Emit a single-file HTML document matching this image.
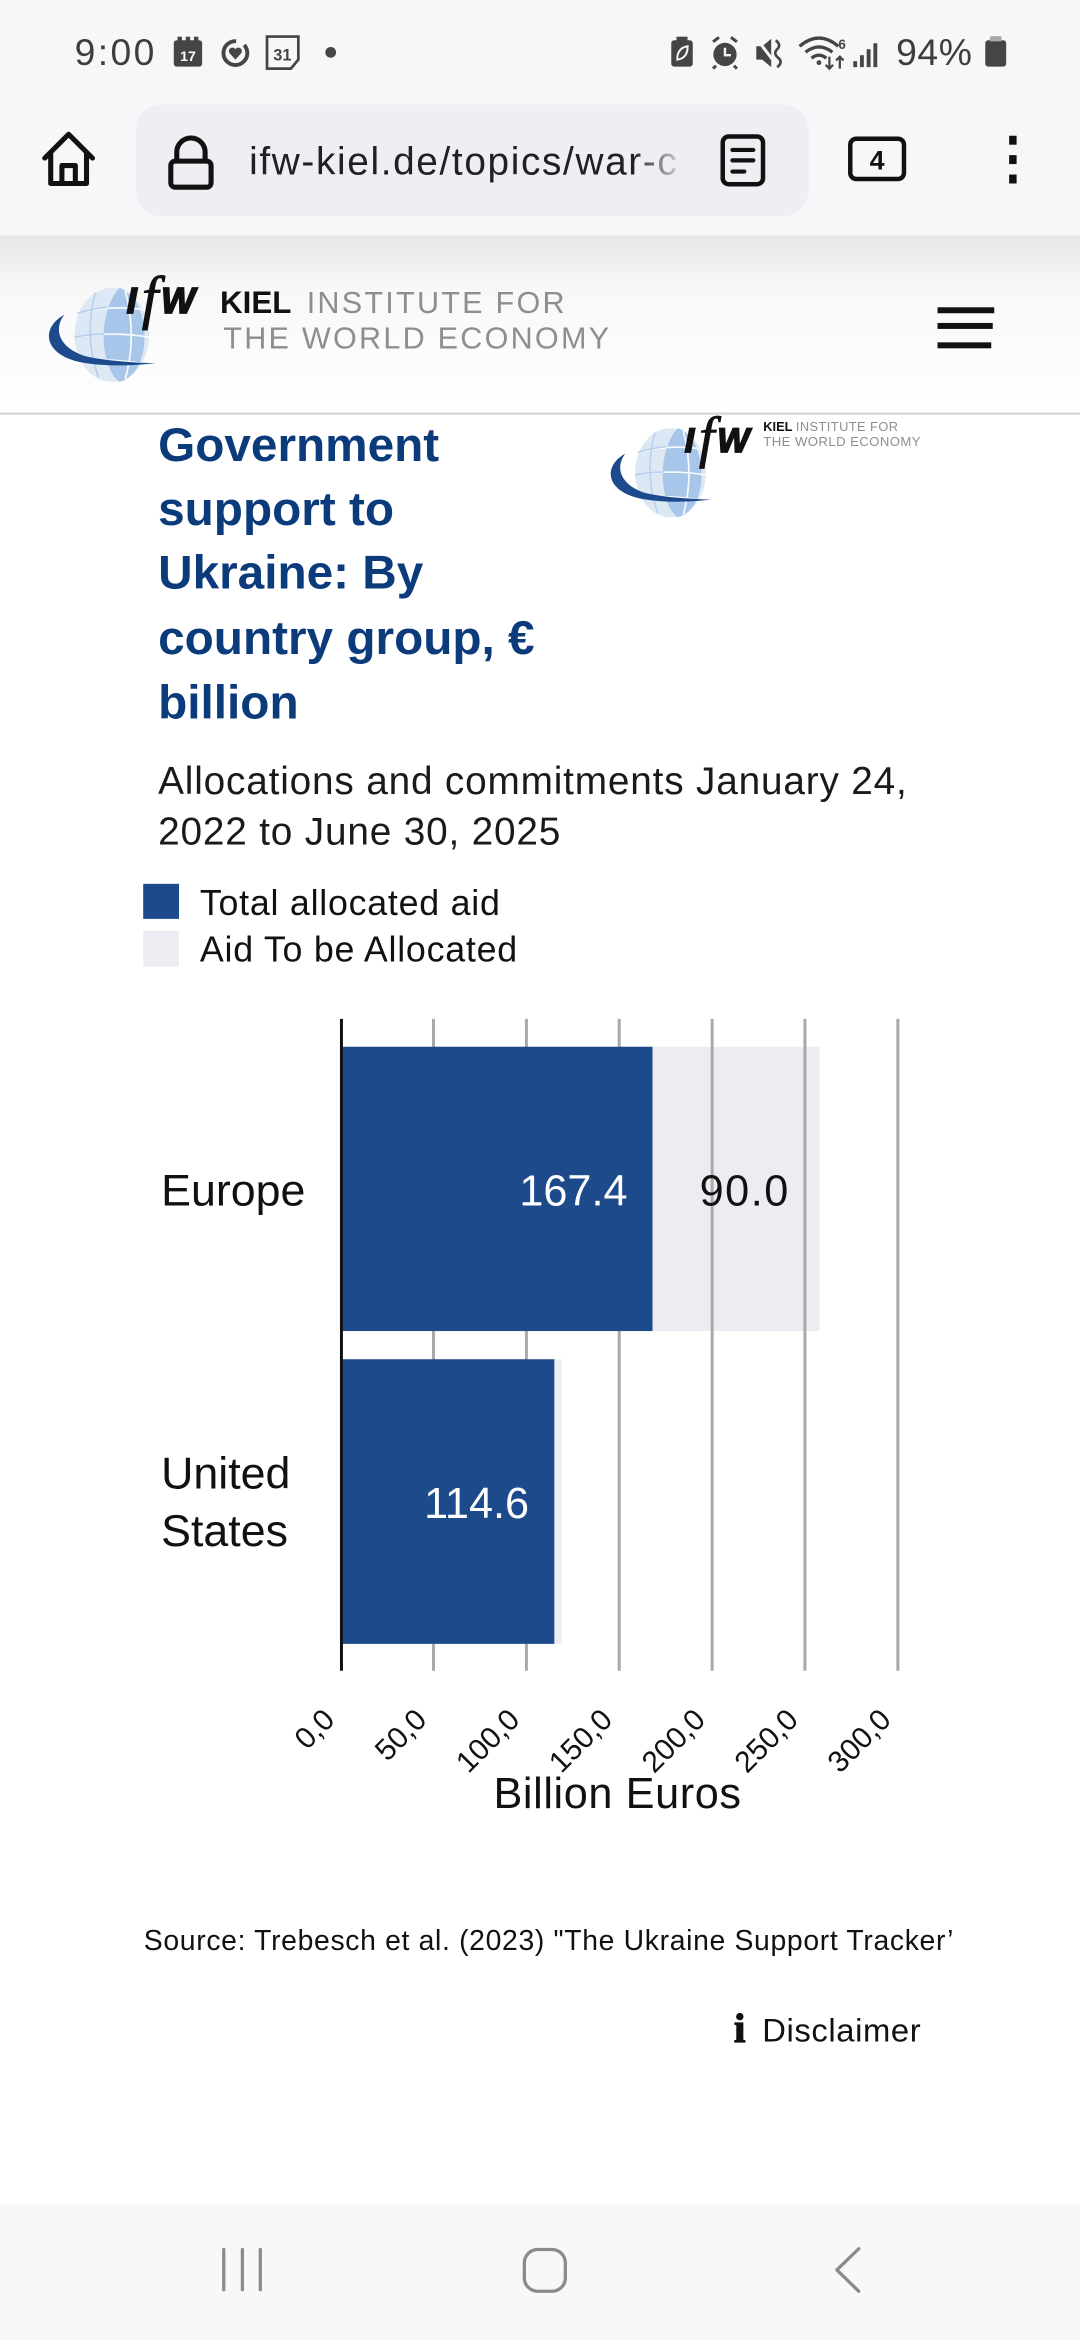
<!DOCTYPE html>
<html><head><meta charset="utf-8">
<style>
html,body{margin:0;padding:0;width:1080px;height:2340px;overflow:hidden;background:#fff;}
svg{display:block;}
</style></head><body>
<svg xmlns="http://www.w3.org/2000/svg" width="1080" height="2340" viewBox="0 0 724 1568.67" preserveAspectRatio="none" font-family="'Liberation Sans', sans-serif">
<defs>
<linearGradient id="hg" x1="0" y1="0" x2="0" y2="1">
<stop offset="0" stop-color="#e6e6e8"/><stop offset="0.3" stop-color="#f8f8f8"/><stop offset="1" stop-color="#ffffff"/>
</linearGradient>
<linearGradient id="fade" x1="0" x2="1">
<stop offset="0" stop-color="#eeeef3" stop-opacity="0"/><stop offset="1" stop-color="#eeeef3" stop-opacity="1"/>
</linearGradient>
<g id="globe">
<ellipse cx="75" cy="224.5" rx="25" ry="31.5" fill="#dde8f5"/>
<path d="M80 193 C101 199 104 250 80 256 C67 246 65 210 80 193 Z" fill="#a8c6ea"/>
<g stroke="#ffffff" stroke-width="1.2" fill="none" opacity="0.9">
<path d="M52 210 Q75 204 99 208"/>
<path d="M50 226 Q75 222 100 226"/>
<path d="M53 242 Q75 240 97 244"/>
<path d="M64 196 Q56 225 66 253"/>
<path d="M84 195 Q92 225 84 254"/>
</g>
<g stroke="#b9d0ec" stroke-width="1.2" fill="none">
<path d="M52 210 Q62 207 72 206"/>
<path d="M50 226 Q60 224 70 224"/>
<path d="M64 196 Q56 225 66 253"/>
</g>
<path d="M43 211 C27 220 29 238 55 243 C72 246 90 245 104 243.5 C88 243 72 242 58 239 C41 234 35 222 43 211 Z" fill="#1c4a8c"/>
<text x="85" y="210" font-size="24" font-weight="bold" font-style="italic" fill="#111" stroke="#111" stroke-width="1.2">I</text>
<text x="95" y="213" font-size="40" font-style="italic" font-family="'Liberation Serif', serif" fill="#111" stroke="#111" stroke-width="0.6">f</text>
<text x="108" y="210" font-size="24" font-weight="bold" font-style="italic" fill="#111" stroke="#111" stroke-width="1.2">W</text>
</g>
</defs>

<rect width="724" height="1568.67" fill="#fff"/>
<!-- status + toolbar -->
<rect width="724" height="158" fill="#f7f7f9"/>
<rect y="158" width="724" height="119" fill="url(#hg)"/>
<rect y="276.5" width="724" height="1.5" fill="#d4d4d4"/>

<text x="50" y="43.6" font-size="25" letter-spacing="1.6" fill="#3d3d3d">9:00</text>
<rect x="116.5" y="27" width="19" height="17.7" rx="2" fill="#454545"/>
<rect x="119" y="24.6" width="3" height="4" fill="#454545"/><rect x="124.5" y="24.6" width="3" height="4" fill="#454545"/><rect x="130" y="24.6" width="3" height="4" fill="#454545"/>
<text x="126" y="41" font-size="9.5" font-weight="bold" fill="#fff" text-anchor="middle">17</text>
<circle cx="157.8" cy="35.6" r="8" fill="none" stroke="#454545" stroke-width="2.6" stroke-dasharray="38 6"/>
<path d="M157.8 40 L153.8 35.5 A2.2 2.2 0 0 1 157.8 33 A2.2 2.2 0 0 1 161.8 35.5 Z" fill="#454545"/>
<path d="M179 24.5 H200 V40 L195 46 H179 Z" fill="none" stroke="#454545" stroke-width="1.8"/>
<text x="189.3" y="40.5" font-size="11" font-weight="bold" fill="#454545" text-anchor="middle">31</text>
<circle cx="221.7" cy="35.1" r="3.6" fill="#454545"/>

<rect x="450" y="27" width="14.4" height="17.7" rx="2" fill="#454545"/>
<rect x="453.5" y="24.6" width="7.4" height="3" fill="#454545"/>
<path d="M454 40 Q454 32 461 31 Q461 39 454 40 Z" fill="none" stroke="#f7f7f9" stroke-width="1.3"/>
<circle cx="486" cy="36.5" r="7.8" fill="#454545"/>
<path d="M478 28 L482 25 M494 28 L490 25 M480 44 L478 46 M492 44 L494 46" stroke="#454545" stroke-width="2"/>
<path d="M486 32 V37 H490" stroke="#f7f7f9" stroke-width="1.6" fill="none"/>
<path d="M507 31 H511 L517 26 V45 L511 40 H507 Z" fill="#454545"/>
<path d="M508 27 L521 44" stroke="#f7f7f9" stroke-width="2"/>
<path d="M520 27 Q524 30 521 33 Q518 36 522 39 Q525 42 521 45" stroke="#454545" stroke-width="1.8" fill="none"/>
<path d="M536 31 Q549 20 562 31" stroke="#454545" stroke-width="2.2" fill="none"/>
<path d="M540 35 Q549 28 558 35" stroke="#454545" stroke-width="2.2" fill="none"/>
<path d="M544 39 Q549 35 554 39" stroke="#454545" stroke-width="2.2" fill="none"/>
<circle cx="549" cy="42" r="1.6" fill="#454545"/>
<text x="562" y="33" font-size="9" font-weight="bold" fill="#454545">6</text>
<path d="M556 38 V46 M553.5 43.5 L556 46 L558.5 43.5 M563 46 V38 M560.5 40.5 L563 38 L565.5 40.5" stroke="#454545" stroke-width="1.5" fill="none"/>
<rect x="572" y="41" width="2.6" height="4" fill="#454545"/><rect x="576.5" y="37" width="2.6" height="8" fill="#454545"/><rect x="581" y="33" width="2.6" height="12" fill="#454545"/><rect x="585.5" y="29" width="2.6" height="16" fill="#454545"/>
<text x="600.7" y="43.6" font-size="25" letter-spacing="0.4" fill="#3d3d3d">94%</text>
<rect x="660.5" y="27" width="14" height="17.7" rx="2" fill="#454545"/>
<rect x="663.5" y="24.2" width="8" height="3.5" rx="1" fill="#aaa"/>

<!-- toolbar -->
<path d="M30 106 L46 90 L62 106 M34 102 V123 H58 V102 M41.5 123 V111 H50.5 V123" fill="none" stroke="#111" stroke-width="3.4" stroke-linejoin="round" stroke-linecap="round"/>
<rect x="91" y="70" width="451" height="75" rx="18" fill="#eeeef3"/>
<path d="M118.5 108 V102 A9.5 9.5 0 0 1 137.5 102 V108" fill="none" stroke="#111" stroke-width="3.4"/>
<rect x="114.5" y="108" width="27" height="17.5" rx="3" fill="none" stroke="#111" stroke-width="3.4"/>
<text x="167" y="117" font-size="26" letter-spacing="1.1" fill="#202124">ifw-kiel.de/topics/war-c</text>
<rect x="425" y="80" width="35" height="55" fill="url(#fade)"/>
<rect x="458" y="80" width="20" height="55" fill="#eeeef3"/>
<rect x="484.5" y="91.5" width="27" height="32" rx="4" fill="none" stroke="#111" stroke-width="3"/>
<path d="M491 100.5 H505 M491 107.5 H505 M491 115 H499" stroke="#111" stroke-width="2.8" stroke-linecap="round"/>
<rect x="570" y="93" width="36" height="27" rx="4" fill="none" stroke="#111" stroke-width="3"/>
<text x="588" y="113.5" font-size="18" font-weight="bold" fill="#111" text-anchor="middle">4</text>
<rect x="676.5" y="91" width="5" height="6" fill="#111"/><rect x="676.5" y="104" width="5" height="6" fill="#111"/><rect x="676.5" y="117" width="5" height="6" fill="#111"/>

<!-- site header -->
<use href="#globe"/>
<text x="147.5" y="210" font-size="21" font-weight="bold" fill="#111">KIEL</text>
<text x="205.6" y="210" font-size="20.5" letter-spacing="1.5" fill="#8e8e8e">INSTITUTE FOR</text>
<text x="149.7" y="233.5" font-size="20.5" letter-spacing="1.5" fill="#8e8e8e">THE WORLD ECONOMY</text>
<rect x="628.5" y="206" width="38" height="4" fill="#111"/>
<rect x="628.5" y="216.5" width="37" height="4" fill="#111"/>
<rect x="628.5" y="229.5" width="36" height="4" fill="#111"/>

<!-- chart header -->
<g font-size="32" font-weight="bold" fill="#0c3b7c">
<text x="106" y="309">Government</text>
<text x="106" y="352">support to</text>
<text x="106" y="394.5">Ukraine: By</text>
<text x="106" y="438.3">country group, €</text>
<text x="106" y="481.7">billion</text>
</g>
<svg x="0" y="278" width="724" height="80" viewBox="0 278 724 80" overflow="hidden">
<use href="#globe" transform="translate(378.25 103.65) scale(0.95)"/>
</svg>
<text x="511.7" y="289" font-size="8.6" font-weight="bold" fill="#111">KIEL <tspan font-weight="normal" fill="#8e8e8e" letter-spacing="0.3">INSTITUTE FOR</tspan></text>
<text x="511.7" y="299" font-size="8.8" letter-spacing="0.3" fill="#8e8e8e">THE WORLD ECONOMY</text>

<g font-size="26" letter-spacing="0.55" fill="#1a1a1a">
<text x="106" y="532.4">Allocations and commitments January 24,</text>
<text x="106" y="566">2022 to June 30, 2025</text>
</g>

<rect x="96" y="592.5" width="24" height="23.5" fill="#1c4a8a"/>
<rect x="96" y="624" width="24" height="24" fill="#ecedf3"/>
<g font-size="24" letter-spacing="0.5" fill="#111">
<text x="134" y="613.5">Total allocated aid</text>
<text x="134" y="644.6">Aid To be Allocated</text>
</g>

<!-- chart -->
<rect x="229" y="701.7" width="320.3" height="190.6" fill="#ecedf3"/>
<rect x="229" y="911.2" width="147.6" height="190.8" fill="#ecedf3"/>
<g stroke="#a9a9a9" stroke-width="2">
<line x1="290.6" y1="683" x2="290.6" y2="1120"/>
<line x1="352.9" y1="683" x2="352.9" y2="1120"/>
<line x1="415.1" y1="683" x2="415.1" y2="1120"/>
<line x1="477.4" y1="683" x2="477.4" y2="1120"/>
<line x1="539.6" y1="683" x2="539.6" y2="1120"/>
<line x1="601.9" y1="683" x2="601.9" y2="1120"/>
</g>
<rect x="229" y="701.7" width="208.4" height="190.6" fill="#1c4a8a"/>
<rect x="229" y="911.2" width="142.6" height="190.8" fill="#1c4a8a"/>
<line x1="228.9" y1="683" x2="228.9" y2="1120" stroke="#111" stroke-width="2"/>

<text x="420.7" y="808" font-size="29" fill="#ffffff" text-anchor="end">167.4</text>
<text x="469" y="808" font-size="29" letter-spacing="1" fill="#111">90.0</text>
<text x="354.7" y="1017.5" font-size="29" fill="#ffffff" text-anchor="end">114.6</text>

<g font-size="30" fill="#111">
<text x="108" y="808">Europe</text>
<text x="108" y="998">United</text>
<text x="108" y="1036.3">States</text>
</g>

<g font-size="20" fill="#111" text-anchor="end">
<text transform="translate(225.4 1154) rotate(-45)">0,0</text>
<text transform="translate(287.1 1154) rotate(-45)">50,0</text>
<text transform="translate(349.4 1154) rotate(-45)">100,0</text>
<text transform="translate(411.6 1154) rotate(-45)">150,0</text>
<text transform="translate(473.9 1154) rotate(-45)">200,0</text>
<text transform="translate(536.1 1154) rotate(-45)">250,0</text>
<text transform="translate(598.4 1154) rotate(-45)">300,0</text>
</g>
<text x="414" y="1212" font-size="29" letter-spacing="0.4" fill="#111" text-anchor="middle">Billion Euros</text>

<text x="96.4" y="1307.3" font-size="19" letter-spacing="0.45" fill="#111">Source: Trebesch et al. (2023) "The Ukraine Support Tracker’</text>

<text x="492" y="1369" font-size="28" font-weight="bold" font-family="'Liberation Serif', serif" fill="#111" stroke="#111" stroke-width="0.8">i</text>
<text x="511" y="1368.7" font-size="22" letter-spacing="0.4" fill="#111">Disclaimer</text>

<!-- nav bar -->
<rect y="1478" width="724" height="91" fill="#f7f8fa"/>
<g stroke="#8b8b8b" stroke-width="2.2" fill="none" stroke-linecap="round">
<line x1="150" y1="1508" x2="150" y2="1535"/>
<line x1="162.5" y1="1508" x2="162.5" y2="1535"/>
<line x1="174.5" y1="1508" x2="174.5" y2="1535"/>
<rect x="351.5" y="1508" width="27.5" height="28" rx="9"/>
<path d="M575.7 1507.5 L561 1521.7 L575.7 1536" stroke-linejoin="round"/>
</g>
</svg>
</body></html>
